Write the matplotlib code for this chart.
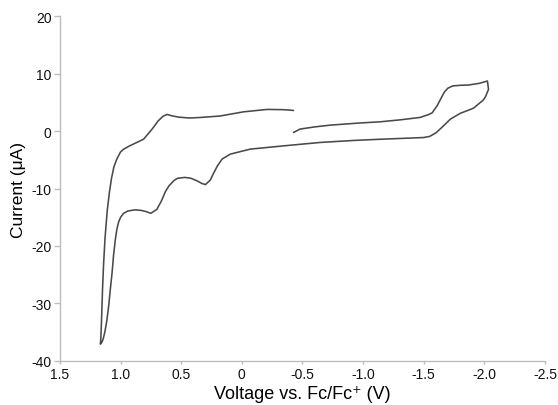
"""
Cyclic voltammogram plot, current vs. potential referenced to Fc/Fc+.
"""

import matplotlib
matplotlib.use("Agg")
import matplotlib.pyplot as plt

# Scan starts near -0.43 V, sweeps negative to -2.03 V, back to +1.17 V,
# and returns towards -0.43 V.
voltage = [
    -0.427, -0.48, -0.60, -0.73, -0.95, -1.14, -1.31, -1.47, -1.54, -1.57,
    -1.61, -1.64, -1.67, -1.70, -1.74, -1.80, -1.87, -1.96, -2.026,
    -2.035, -2.01, -1.99, -1.91, -1.80, -1.72, -1.65, -1.60, -1.55, -1.50,
    -1.31, -1.14, -0.93, -0.65, -0.35, -0.07, 0.095, 0.163, 0.20, 0.23,
    0.26, 0.30, 0.33, 0.37, 0.42, 0.47, 0.53, 0.56, 0.60, 0.63, 0.66, 0.70,
    0.75, 0.79, 0.83, 0.88, 0.94, 0.975, 1.00, 1.016, 1.03, 1.043, 1.058,
    1.07, 1.085, 1.098, 1.115, 1.13, 1.145, 1.158, 1.167,
    1.164, 1.160, 1.155, 1.149, 1.140, 1.128, 1.110, 1.092, 1.075, 1.055,
    1.030, 1.00, 0.974, 0.93, 0.89, 0.81, 0.74, 0.69, 0.65, 0.617, 0.58,
    0.52, 0.43, 0.34, 0.18, -0.015, -0.21, -0.35, -0.427,
]
current = [
    -0.21, 0.37, 0.75, 1.06, 1.40, 1.64, 1.99, 2.40, 2.90, 3.20,
    4.40, 5.60, 6.80, 7.50, 7.90, 8.00, 8.05, 8.35, 8.75,
    7.30, 6.00, 5.40, 4.00, 3.10, 2.10, 0.66, -0.30, -0.90, -1.10,
    -1.26, -1.40, -1.60, -1.95, -2.54, -3.12, -3.99, -4.86, -6.00, -7.20,
    -8.50, -9.30, -9.10, -8.64, -8.20, -8.05, -8.20, -8.60, -9.50, -10.5,
    -12.0, -13.6, -14.3, -14.0, -13.8, -13.7, -13.9, -14.3, -15.0, -15.8,
    -17.0, -18.8, -21.6, -24.6, -27.6, -30.4, -33.2, -35.0, -36.3, -36.9,
    -37.1,
    -36.4, -34.5, -31.5, -27.5, -23.0, -18.5, -13.8, -10.6, -8.2, -6.2,
    -4.8, -3.6, -3.12, -2.6, -2.2, -1.38, 0.37, 1.80, 2.60, 2.93, 2.70,
    2.45, 2.30, 2.40, 2.65, 3.38, 3.80, 3.75, 3.62,
]

x_ticks = [1.5, 1.0, 0.5, 0.0, -0.5, -1.0, -1.5, -2.0, -2.5]
x_tick_labels = ["1.5", "1.0", "0.5", "0", "-0.5", "-1.0", "-1.5", "-2.0", "-2.5"]
y_ticks = [-40, -30, -20, -10, 0, 10, 20]
y_tick_labels = ["-40", "-30", "-20", "-10", "0", "10", "20"]

plt.rcParams["font.family"] = ["Liberation Sans", "DejaVu Sans"]

fig = plt.figure(figsize=(5.58, 4.06), dpi=100)
ax = fig.add_axes([0.1075, 0.109, 0.869, 0.848])

ax.plot(voltage, current, color="#4a4a4a", linewidth=1.15,
        solid_joinstyle="round", solid_capstyle="round")

ax.set_xlim(1.5, -2.5)
ax.set_ylim(-40, 20)
ax.set_xticks(x_ticks)
ax.set_xticklabels(x_tick_labels)
ax.set_yticks(y_ticks)
ax.set_yticklabels(y_tick_labels)

axis_grey = "#bdbdbd"
for side in ["top", "right"]:
    ax.spines[side].set_visible(False)
for side in ["left", "bottom"]:
    ax.spines[side].set_color(axis_grey)
    ax.spines[side].set_linewidth(1.0)

ax.tick_params(axis="y", direction="out", length=4, width=1.0,
               color=axis_grey, labelsize=10, labelcolor="#111111", pad=2)
ax.tick_params(axis="x", direction="out", length=2.5, width=1.0,
               color=axis_grey, labelsize=10, labelcolor="#111111", pad=2)

ax.set_xlabel("Voltage vs. Fc/Fc\u207a (V)", fontsize=13, labelpad=3)
ax.set_ylabel("Current (\u03bcA)", fontsize=12.5, labelpad=4)

fig.savefig("out.png", dpi=100, facecolor="white")
